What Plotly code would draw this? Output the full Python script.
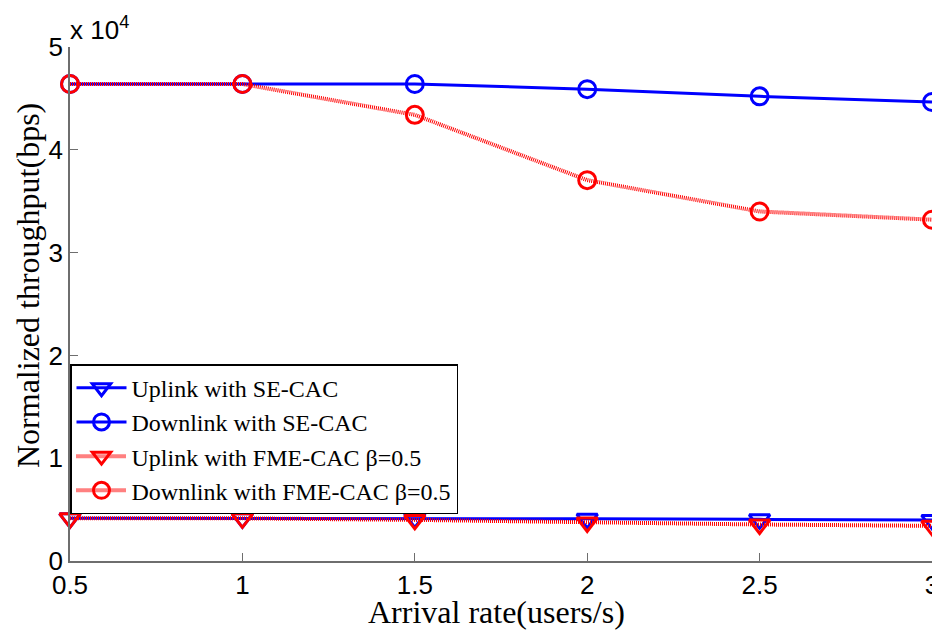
import plotly.graph_objects as go

x_rate = [0.5, 1.0, 1.5, 2.0, 2.5, 3.0]
uplink_se = [4150, 4150, 4150, 4100, 4050, 4000]
downlink_se = [46400, 46400, 46400, 45900, 45200, 44650]
uplink_fme = [4150, 4150, 4000, 3750, 3550, 3420]
downlink_fme = [46400, 46400, 43400, 37050, 34000, 33200]

y_tickvals = [0, 10000, 20000, 30000, 40000, 50000]
y_ticktext = ["0", "1", "2", "3", "4", "5"]
x_tickvals = [0.5, 1, 1.5, 2, 2.5, 3]
x_ticktext = ["0.5", "1", "1.5", "2", "2.5", "3"]

BLUE = "#0000FF"
RED = "#FF0000"

fig = go.Figure()
fig.add_trace(go.Scatter(
    x=x_rate, y=uplink_se, name="Uplink with SE-CAC", mode="lines+markers",
    line=dict(color=BLUE, width=3),
    marker=dict(symbol="triangle-down-open", size=18, color=BLUE, line=dict(width=3, color=BLUE)),
    cliponaxis=False))
fig.add_trace(go.Scatter(
    x=x_rate, y=downlink_se, name="Downlink with SE-CAC", mode="lines+markers",
    line=dict(color=BLUE, width=3),
    marker=dict(symbol="circle-open", size=17, color=BLUE, line=dict(width=3, color=BLUE)),
    cliponaxis=False))
fig.add_trace(go.Scatter(
    x=x_rate, y=uplink_fme, name="Uplink with FME-CAC \u03b2=0.5", mode="lines+markers",
    line=dict(color=RED, width=4, dash="1px,1px"),
    marker=dict(symbol="triangle-down-open", size=18, color=RED, line=dict(width=3, color=RED)),
    cliponaxis=False))
fig.add_trace(go.Scatter(
    x=x_rate, y=downlink_fme, name="Downlink with FME-CAC \u03b2=0.5", mode="lines+markers",
    line=dict(color=RED, width=4, dash="1px,1px"),
    marker=dict(symbol="circle-open", size=17, color=RED, line=dict(width=3, color=RED)),
    cliponaxis=False))

axis_color = "#6e6e6e"
tick_font = dict(size=26, family="Liberation Sans, Arial", color="black")
fig.update_layout(
    width=932, height=623,
    margin=dict(l=62, r=8, t=39, b=70),
    paper_bgcolor="white", plot_bgcolor="white",
    font=dict(family="Liberation Sans, Arial", size=26, color="black"),
    xaxis=dict(range=[0.5, 3], tickvals=x_tickvals, ticktext=x_ticktext, automargin=False,
               showgrid=False, zeroline=False, showline=True, linecolor=axis_color, linewidth=1.5,
               ticks="inside", ticklen=8, tickcolor=axis_color, tickwidth=1,
               tickfont=tick_font),
    yaxis=dict(range=[0, 50000], tickvals=y_tickvals, ticktext=y_ticktext, automargin=False,
               showgrid=False, zeroline=False, showline=True, linecolor=axis_color, linewidth=1.5,
               ticks="inside", ticklen=8, tickcolor=axis_color, tickwidth=1,
               tickfont=tick_font),
    legend=dict(x=0, y=0.383, xanchor="left", yanchor="top",
                bgcolor="white", bordercolor="black", borderwidth=1.5,
                font=dict(family="Liberation Serif, Times New Roman", size=24, color="black"),
                tracegroupgap=0, itemwidth=50),
    showlegend=True,
    annotations=[
        dict(text="Arrival rate(users/s)", xref="paper", yref="paper", x=0.495, y=0,
             xanchor="center", yanchor="middle", yshift=-51, showarrow=False,
             font=dict(family="Liberation Serif, Times New Roman", size=32, color="black")),
        dict(text="Normalized throughput(bps)", xref="paper", yref="paper", x=0, y=0.535,
             xanchor="center", yanchor="middle", xshift=-42, textangle=-90, showarrow=False,
             font=dict(family="Liberation Serif, Times New Roman", size=32, color="black")),
        dict(text="x 10<sup>4</sup>", xref="paper", yref="paper", x=0, y=1,
             xanchor="left", yanchor="bottom", xshift=-2, yshift=0, showarrow=False,
             font=dict(family="Liberation Sans, Arial", size=26, color="black")),
    ],
)

fig.write_html("out.html")
